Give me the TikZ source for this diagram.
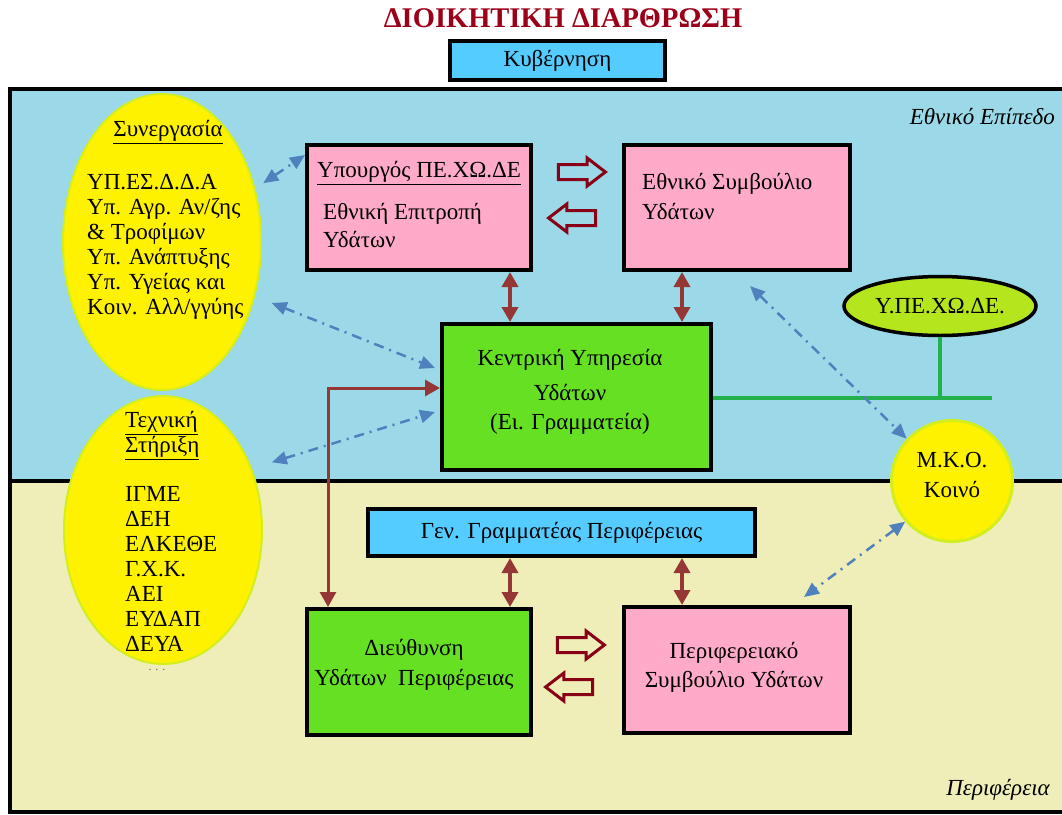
\documentclass[tikz,border=0pt]{standalone}
\usepackage{fontspec}
\setmainfont{Liberation Serif}
\usetikzlibrary{arrows.meta, shapes.geometric, shapes.arrows}
\definecolor{skyblue}{HTML}{9BD9E9}
\definecolor{paleyellow}{HTML}{F0EEB8}
\definecolor{boxpink}{HTML}{FFAAC8}
\definecolor{boxgreen}{HTML}{66E022}
\definecolor{boxcyan}{HTML}{55CCFF}
\definecolor{ellyellow}{HTML}{FFF200}
\definecolor{ellrim}{HTML}{D2EE1E}
\definecolor{limegreen}{HTML}{B5E61D}
\definecolor{darkred}{HTML}{880015}
\definecolor{brickred}{HTML}{953735}
\definecolor{linkblue}{HTML}{4F81BD}
\definecolor{linegreen}{HTML}{22B14C}
\definecolor{titlered}{HTML}{9C0019}

\begin{document}
\begin{tikzpicture}[x=1pt, y=-1pt,
            every node/.style={font=\fontsize{23}{25}\selectfont},
            box/.style={draw, line width=4pt, rectangle, inner sep=0pt},
            txt/.style={inner sep=0pt, align=left},
            oval/.style={ellipse, inner sep=0pt, fill=ellyellow, draw=ellrim, line width=2pt},
            hollow/.style={single arrow, draw=darkred, line width=3pt, inner xsep=0pt, inner ysep=6pt,
                minimum height=47pt, single arrow head extend=6.5pt, single arrow tip angle=75},
            updown/.style={brickred, line width=3.5pt, {Triangle[length=15pt,width=16pt]}-{Triangle[length=15pt,width=16pt]}},
            link/.style={linkblue, line width=2.5pt, dash pattern=on 10pt off 6pt on 2pt off 6pt,
                {Triangle[length=15pt,width=13pt]}-{Triangle[length=15pt,width=13pt]}}]

        \useasboundingbox (0,0) rectangle (1062,814);

        % the two levels
        \fill[skyblue] (10,89) rectangle (1070,481);
        \fill[paleyellow] (10,481) rectangle (1070,812);
        \draw[line width=4pt] (10,89) rectangle (1070,812);
        \draw[line width=4pt] (10,481) -- (1070,481);

        \node[font=\fontsize{28.5}{30}\selectfont\bfseries, text=titlered] (titlos) at (563,18) {ΔΙΟΙΚΗΤΙΚΗ ΔΙΑΡΘΡΩΣΗ};
        \node[box, fill=boxcyan, minimum width=215pt, minimum height=39pt] (kyvernisi) at (557.5,60.5) {Κυβέρνηση};

        \node[txt, anchor=east, font=\fontsize{23}{25}\selectfont\itshape] (ethniko-epipedo) at (1055,117) {Εθνικό Επίπεδο};
        \node[txt, anchor=east, font=\fontsize{23}{25}\selectfont\itshape] (perifereia) at (1050,790) {Περιφέρεια};

        \coordinate (colA) at (510,0);
        \coordinate (colB) at (682,0);
        \coordinate (colC) at (328,0);
        \coordinate (grammi-telos) at (992,398);

        % ellipses on the left
        \node[oval, minimum width=198pt, minimum height=296pt] (synergasia) at (162,242) {};
        \node[txt] (synergasia-titlos) at (168,132) {\underline{Συνεργασία}};
        \node[txt, anchor=north west] (synergasia-lista) at (87,174)
            {ΥΠ.ΕΣ.Δ.Δ.Α\\Υπ. Αγρ. Αν/ζης\\\& Τροφίμων\\Υπ. Ανάπτυξης\\Υπ. Υγείας και\\Κοιν. Αλλ/γγύης};

        \node[oval, minimum width=198pt, minimum height=268pt] (texniki) at (163,530) {};
        \node[txt, anchor=north west] (texniki-titlos) at (125,411) {\underline{Τεχνική}\\\underline{Στήριξη}};
        \node[txt, anchor=north west] (texniki-lista) at (125,486) {ΙΓΜΕ\\ΔΕΗ\\ΕΛΚΕΘΕ\\Γ.Χ.Κ.\\ΑΕΙ\\ΕΥΔΑΠ\\ΔΕΥΑ};
        \node[txt, font=\fontsize{12}{14}\selectfont, text=black!60] (texniki-teleies) at (157,670) {. . .};

        % national level
        \node[box, fill=boxpink, minimum width=224pt, minimum height=125pt] (ypourgos) at (419,207.5) {};
        \node[txt, anchor=west] (ypourgos-titlos) at (317,173) {\underline{Υπουργός ΠΕ.ΧΩ.ΔΕ}};
        \node[txt, anchor=north west, font=\fontsize{23}{28}\selectfont] (ypourgos-epitropi) at (323,203) {Εθνική Επιτροπή\\Υδάτων};

        \node[box, fill=boxpink, minimum width=226pt, minimum height=125pt] (ethniko) at (737,207.5) {};
        \node[txt, anchor=north west, font=\fontsize{23}{30}\selectfont] (ethniko-keimeno) at (642,173) {Εθνικό Συμβούλιο\\Υδάτων};

        \node[hollow] (pros-ethniko) at (577,172) {};
        \node[hollow, shape border rotate=180] (pros-ypourgo) at (577,218) {};

        \node[box, fill=boxgreen, minimum width=269pt, minimum height=146pt] (kentriki) at (576.5,397) {};
        \node[txt, align=center, anchor=north] (kentriki-keimeno) at (570,349)
            {Κεντρική Υπηρεσία\\[10pt]Υδάτων\\[4pt](Ει. Γραμματεία)};

        \node[ellipse, fill=limegreen, draw, line width=3.5pt, minimum width=192pt, minimum height=59pt, inner sep=0pt] (ypexode) at (940,306) {Υ.ΠΕ.ΧΩ.ΔΕ.};

        \draw[linegreen, line width=3.5pt] (kentriki.east |- grammi-telos) -- (grammi-telos);
        \draw[linegreen, line width=3.5pt] (ypexode.south) -- (ypexode.south |- grammi-telos);

        \node[circle, fill=ellyellow, draw=ellrim, line width=3pt, minimum size=121pt, inner sep=0pt] (mko) at (952,481) {};
        \node[txt, align=center] (mko-keimeno) at (952,475) {Μ.Κ.Ο.\\[5pt]Κοινό};

        % regional level
        \node[box, fill=boxcyan, minimum width=387pt, minimum height=47pt] (genikos) at (561.5,532.5) {Γεν. Γραμματέας Περιφέρειας};

        \node[box, fill=boxgreen, minimum width=224pt, minimum height=126pt] (dieuthynsi) at (419,672) {};
        \node[txt, align=center] (dieuthynsi-keimeno) at (414,665) {Διεύθυνση\\[5pt]Υδάτων\ \ Περιφέρειας};

        \node[box, fill=boxpink, minimum width=226pt, minimum height=126pt] (perifereiako) at (737,670) {};
        \node[txt, align=center] (perifereiako-keimeno) at (734,667.5) {Περιφερειακό\\[4pt]Συμβούλιο Υδάτων};

        \node[hollow] (pros-perifereiako) at (576,645) {};
        \node[hollow, shape border rotate=180] (pros-dieuthynsi) at (574,687) {};

        \draw[updown] (ypourgos.south -| colA) -- (kentriki.north -| colA);
        \draw[updown] (ethniko.south -| colB) -- (kentriki.north -| colB);
        \draw[updown] (genikos.south -| colA) -- (dieuthynsi.north -| colA);
        \draw[updown] (genikos.south -| colB) -- (perifereiako.north -| colB);
        \draw[updown, line width=3pt] ([yshift=9pt]kentriki.west) -| (dieuthynsi.north -| colC);

        \draw[link] ([shift={(8pt,5pt)}]synergasia.30) -- ([yshift=52.5pt]ypourgos.west);
        \draw[link] ([shift={(16pt,-9pt)}]synergasia.-29) -- ([shift={(-5pt,29pt)}]kentriki.west);
        \draw[link] ([shift={(18pt,11pt)}]texniki.32) -- ([shift={(-5pt,-15pt)}]kentriki.west);
        \draw[link] ([shift={(13pt,-14pt)}]ethniko.south) -- (mko.137);
        \draw[link] (mko.221) -- ([shift={(67pt,8pt)}]perifereiako.north);
    \end{tikzpicture}
\end{document}
